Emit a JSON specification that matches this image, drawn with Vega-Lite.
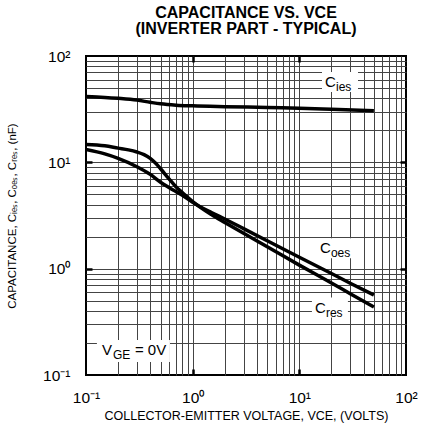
{
  "$schema": "https://vega.github.io/schema/vega-lite/v6.json",
  "width": 320,
  "height": 319,
  "autosize": {"type": "none"},
  "padding": {"left": 86, "top": 56, "right": 18, "bottom": 55},
  "background": "white",
  "config": {
    "font": "Liberation Sans",
    "view": {"stroke": "black", "strokeWidth": 2},
    "axis": {"labelColor": "black", "titleColor": "black", "labelFont": "Liberation Sans", "titleFont": "Liberation Sans"}
  },
  "title": {
    "text": ["CAPACITANCE VS. VCE", "(INVERTER PART - TYPICAL)"],
    "font": "Liberation Sans",
    "fontSize": 16,
    "fontWeight": "bold",
    "lineHeight": 16,
    "offset": 12,
    "anchor": "middle",
    "color": "black"
  },
  "datasets": {
    "curves": [
      {"series": "Cies", "v": 0.1, "c": 41.5},
      {"series": "Cies", "v": 0.15, "c": 40.8},
      {"series": "Cies", "v": 0.2, "c": 40.0},
      {"series": "Cies", "v": 0.3, "c": 38.5},
      {"series": "Cies", "v": 0.4, "c": 36.7},
      {"series": "Cies", "v": 0.5, "c": 35.5},
      {"series": "Cies", "v": 0.7, "c": 34.5},
      {"series": "Cies", "v": 1, "c": 34.0},
      {"series": "Cies", "v": 2, "c": 33.4},
      {"series": "Cies", "v": 5, "c": 32.8},
      {"series": "Cies", "v": 10, "c": 32.3},
      {"series": "Cies", "v": 20, "c": 31.6},
      {"series": "Cies", "v": 50, "c": 30.6},
      {"series": "Coes", "v": 0.1, "c": 13.2},
      {"series": "Coes", "v": 0.15, "c": 12.0},
      {"series": "Coes", "v": 0.2, "c": 10.9},
      {"series": "Coes", "v": 0.3, "c": 9.1},
      {"series": "Coes", "v": 0.4, "c": 7.7},
      {"series": "Coes", "v": 0.5, "c": 6.5},
      {"series": "Coes", "v": 0.6, "c": 5.8},
      {"series": "Coes", "v": 0.7, "c": 5.3},
      {"series": "Coes", "v": 0.8, "c": 4.9},
      {"series": "Coes", "v": 1, "c": 4.2},
      {"series": "Coes", "v": 1.5, "c": 3.37},
      {"series": "Coes", "v": 2, "c": 2.93},
      {"series": "Coes", "v": 3, "c": 2.38},
      {"series": "Coes", "v": 5, "c": 1.83},
      {"series": "Coes", "v": 10, "c": 1.28},
      {"series": "Coes", "v": 20, "c": 0.9},
      {"series": "Coes", "v": 30, "c": 0.73},
      {"series": "Coes", "v": 50, "c": 0.565},
      {"series": "Cres", "v": 0.1, "c": 14.7},
      {"series": "Cres", "v": 0.15, "c": 14.3},
      {"series": "Cres", "v": 0.2, "c": 13.6},
      {"series": "Cres", "v": 0.25, "c": 13.1},
      {"series": "Cres", "v": 0.3, "c": 12.5},
      {"series": "Cres", "v": 0.35, "c": 11.8},
      {"series": "Cres", "v": 0.4, "c": 10.9},
      {"series": "Cres", "v": 0.45, "c": 9.8},
      {"series": "Cres", "v": 0.5, "c": 8.7},
      {"series": "Cres", "v": 0.6, "c": 7.0},
      {"series": "Cres", "v": 0.7, "c": 5.86},
      {"series": "Cres", "v": 0.8, "c": 5.2},
      {"series": "Cres", "v": 1, "c": 4.28},
      {"series": "Cres", "v": 1.5, "c": 3.23},
      {"series": "Cres", "v": 2, "c": 2.72},
      {"series": "Cres", "v": 3, "c": 2.15},
      {"series": "Cres", "v": 5, "c": 1.61},
      {"series": "Cres", "v": 10, "c": 1.08},
      {"series": "Cres", "v": 20, "c": 0.733},
      {"series": "Cres", "v": 30, "c": 0.582},
      {"series": "Cres", "v": 50, "c": 0.436}
    ],
    "labels": [
      {"main": "C", "sub": "ies", "tail": "", "v": 17.4, "c": 56.9},
      {"main": "C", "sub": "oes", "tail": "", "v": 15.6, "c": 1.56},
      {"main": "C", "sub": "res", "tail": "", "v": 14.0, "c": 0.431},
      {"main": "V", "sub": "GE", "tail": "= 0V", "v": 0.141, "c": 0.172}
    ]
  },
  "resolve": {"axis": {"x": "independent", "y": "independent"}},
  "layer": [
    {
      "data": {"name": "curves"},
      "mark": {"type": "line", "interpolate": "monotone", "strokeWidth": 3.5, "color": "black", "clip": true},
      "encoding": {
        "x": {
          "field": "v", "type": "quantitative",
          "scale": {"type": "log", "domain": [0.1, 100], "nice": false},
          "axis": {"orient": "bottom", "values": [0.2,0.3,0.4,0.5,0.6,0.7,0.8,0.9,1,2,3,4,5,6,7,8,9,10,20,30,40,50,60,70,80,90],
                   "grid": true, "gridColor": "#444", "gridWidth": 1, "gridOpacity": 1,
                   "ticks": false, "labels": false, "domain": false, "title": null}
        },
        "y": {
          "field": "c", "type": "quantitative",
          "scale": {"type": "log", "domain": [0.1, 100], "nice": false},
          "axis": {"orient": "left", "values": [0.2,0.3,0.4,0.5,0.6,0.7,0.8,0.9,1,2,3,4,5,6,7,8,9,10,20,30,40,50,60,70,80,90],
                   "grid": true, "gridColor": "#444", "gridWidth": 1, "gridOpacity": 1,
                   "ticks": false, "labels": false, "domain": false, "title": null}
        },
        "detail": {"field": "series"}
      }
    },
    {
      "data": {"name": "labels"},
      "transform": [{"filter": "datum.main == 'C'"}],
      "mark": {"type": "point", "shape": "M-3,-10L33,-10L33,10L-3,10Z", "size": 4, "filled": true, "fill": "white", "strokeWidth": 0, "opacity": 1},
      "encoding": {
        "x": {
          "field": "v", "type": "quantitative",
          "scale": {"type": "log", "domain": [0.1, 100], "nice": false},
          "axis": {"orient": "bottom", "values": [0.1, 1, 10, 100], "grid": false, "ticks": false, "domain": false,
                   "labelExpr": "datum.value < 0.5 ? '10⁻¹' : datum.value < 5 ? '10⁰' : datum.value < 50 ? '10¹' : '10²'",
                   "labelFontSize": 15.5, "labelPadding": 15, "labelBaseline": "top", "labelFlush": false, "labelOverlap": false, "labelBound": false,
                   "title": "COLLECTOR-EMITTER VOLTAGE, VCE, (VOLTS)", "titleFontSize": 12.5, "titleFontWeight": "normal", "titlePadding": 4}
        },
        "y": {
          "field": "c", "type": "quantitative",
          "scale": {"type": "log", "domain": [0.1, 100], "nice": false},
          "axis": {"orient": "left", "values": [0.1, 1, 10, 100], "grid": false, "ticks": false, "domain": false,
                   "labelExpr": "datum.value < 0.5 ? '10⁻¹' : datum.value < 5 ? '10⁰' : datum.value < 50 ? '10¹' : '10²'",
                   "labelFontSize": 15.5, "labelPadding": 16, "labelBaseline": "middle", "labelFlush": false, "labelOverlap": false, "labelBound": false,
                   "title": "CAPACITANCE, Cᵢₑₛ, Cₒₑₛ, Cᵣₑₛ, (nF)", "titleFontSize": 11.5, "titleFontWeight": "normal", "titlePadding": 25}
        }
      }
    },
    {
      "data": {"name": "labels"},
      "transform": [{"filter": "datum.main == 'V'"}],
      "mark": {"type": "point", "shape": "M-5,-10L68,-10L68,12L-5,12Z", "size": 4, "filled": true, "fill": "white", "strokeWidth": 0, "opacity": 1},
      "encoding": {
        "x": {
          "field": "v", "type": "quantitative",
          "scale": {"type": "log", "domain": [0.1, 100], "nice": false},
          "axis": {"orient": "bottom", "values": [1, 10], "grid": false, "ticks": true, "tickSize": -6, "tickWidth": 2.5, "tickColor": "black",
                   "labels": false, "domain": false, "title": null}
        },
        "y": {
          "field": "c", "type": "quantitative",
          "scale": {"type": "log", "domain": [0.1, 100], "nice": false},
          "axis": {"orient": "left", "values": [1, 10], "grid": false, "ticks": true, "tickSize": -6, "tickWidth": 2.5, "tickColor": "black",
                   "labels": false, "domain": false, "title": null}
        }
      }
    },
    {
      "data": {"name": "labels"},
      "mark": {"type": "text", "align": "left", "baseline": "middle", "fontSize": 15, "fill": "black"},
      "encoding": {
        "x": {
          "field": "v", "type": "quantitative",
          "scale": {"type": "log", "domain": [0.1, 100], "nice": false},
          "axis": {"orient": "top", "values": [1, 10], "grid": false, "ticks": true, "tickSize": -6, "tickWidth": 2.5, "tickColor": "black",
                   "labels": false, "domain": false, "title": null}
        },
        "y": {
          "field": "c", "type": "quantitative",
          "scale": {"type": "log", "domain": [0.1, 100], "nice": false},
          "axis": {"orient": "right", "values": [1, 10], "grid": false, "ticks": true, "tickSize": -6, "tickWidth": 2.5, "tickColor": "black",
                   "labels": false, "domain": false, "title": null}
        },
        "text": {"field": "main"}
      }
    },
    {
      "data": {"name": "labels"},
      "mark": {"type": "text", "align": "left", "baseline": "middle", "fontSize": 12, "dx": 11, "dy": 5, "fill": "black"},
      "encoding": {
        "x": {"field": "v", "type": "quantitative", "scale": {"type": "log", "domain": [0.1, 100], "nice": false}, "axis": null},
        "y": {"field": "c", "type": "quantitative", "scale": {"type": "log", "domain": [0.1, 100], "nice": false}, "axis": null},
        "text": {"field": "sub"}
      }
    },
    {
      "data": {"name": "labels"},
      "mark": {"type": "text", "align": "left", "baseline": "middle", "fontSize": 15, "dx": 33, "fill": "black"},
      "encoding": {
        "x": {"field": "v", "type": "quantitative", "scale": {"type": "log", "domain": [0.1, 100], "nice": false}, "axis": null},
        "y": {"field": "c", "type": "quantitative", "scale": {"type": "log", "domain": [0.1, 100], "nice": false}, "axis": null},
        "text": {"field": "tail"}
      }
    }
  ]
}
